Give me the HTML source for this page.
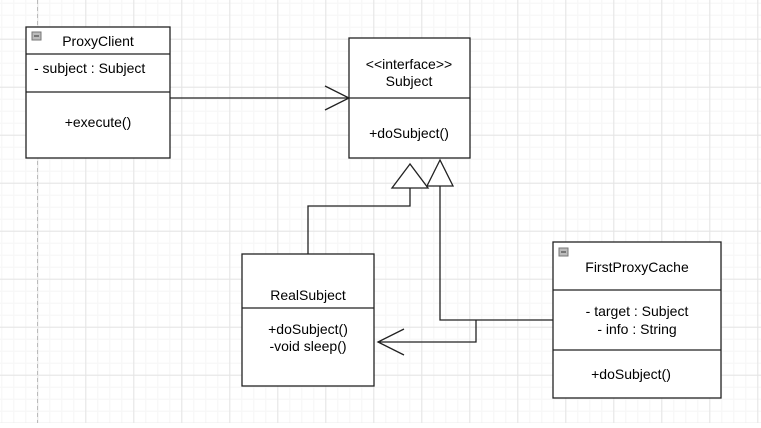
<!DOCTYPE html>
<html><head><style>
html,body{margin:0;padding:0;}
body{width:761px;height:423px;overflow:hidden;background:#fff;}
svg text{font-family:"Liberation Sans",Arial,sans-serif;font-size:14px;fill:#000;}
</style></head><body>
<svg width="761" height="423" xmlns="http://www.w3.org/2000/svg">
<defs>
<pattern id="minor" width="12" height="12" patternUnits="userSpaceOnUse" x="1.3" y="2.7">
<path d="M0 0.5H12M0.5 0V12" stroke="#f6f6f6" stroke-width="1" fill="none"/>
</pattern>
<pattern id="major" width="48" height="48" patternUnits="userSpaceOnUse" x="37.3" y="38.7">
<path d="M0 0.5H48M0.5 0V48" stroke="#e4e4e4" stroke-width="1" fill="none"/>
</pattern>
</defs>
<rect width="761" height="423" fill="url(#minor)"/>
<rect width="761" height="423" fill="url(#major)"/>
<line x1="37.5" y1="0" x2="37.5" y2="423" stroke="#bbb" stroke-dasharray="4,3"/>
<g stroke="#222" stroke-width="1.3" fill="#fff">
<rect x="26" y="27" width="144" height="131"/>
<line x1="26" y1="54" x2="170" y2="54"/>
<line x1="26" y1="92" x2="170" y2="92"/>
<rect x="349" y="38" width="121" height="120"/>
<line x1="349" y1="98" x2="470" y2="98"/>
<rect x="242" y="254" width="132" height="132"/>
<line x1="242" y1="308" x2="374" y2="308"/>
<rect x="553" y="242" width="168" height="156"/>
<line x1="553" y1="290" x2="721" y2="290"/>
<line x1="553" y1="350" x2="721" y2="350"/>
</g>
<g stroke="#222" stroke-width="1.3" fill="none">
<line x1="170" y1="98" x2="349" y2="98"/>
<polyline points="325,86 349,98 325,110"/>
<polyline points="308,254 308,206 410,206 410,188"/>
<polyline points="553,320 440,320 440,186"/>
<polyline points="476,320 476,342 378,342"/>
<polyline points="404,329 378,342 404,355"/>
<polygon points="410,164 392,188 428,188" fill="#fff"/>
<polygon points="440,160 427,186 453,186" fill="#fff"/>
</g>
<rect x="32" y="32" width="9" height="8" fill="#bbb" stroke="#777"/>
<line x1="34" y1="36" x2="39" y2="36" stroke="#333"/>
<rect x="559" y="248" width="9" height="8" fill="#bbb" stroke="#777"/>
<line x1="561" y1="252" x2="566" y2="252" stroke="#333"/>
<text x="98" y="46" text-anchor="middle">ProxyClient</text>
<text x="34" y="73">- subject : Subject</text>
<text x="98" y="127" text-anchor="middle">+execute()</text>
<text x="409" y="69" text-anchor="middle" font-size="13">&lt;&lt;interface&gt;&gt;</text>
<text x="409" y="86" text-anchor="middle">Subject</text>
<text x="409" y="138" text-anchor="middle">+doSubject()</text>
<text x="308" y="300" text-anchor="middle">RealSubject</text>
<text x="308" y="334" text-anchor="middle">+doSubject()</text>
<text x="308" y="351" text-anchor="middle">-void sleep()</text>
<text x="637" y="272" text-anchor="middle">FirstProxyCache</text>
<text x="637" y="316" text-anchor="middle">- target : Subject</text>
<text x="637" y="334" text-anchor="middle">- info : String</text>
<text x="631" y="379" text-anchor="middle">+doSubject()</text>
</svg>
</body></html>
